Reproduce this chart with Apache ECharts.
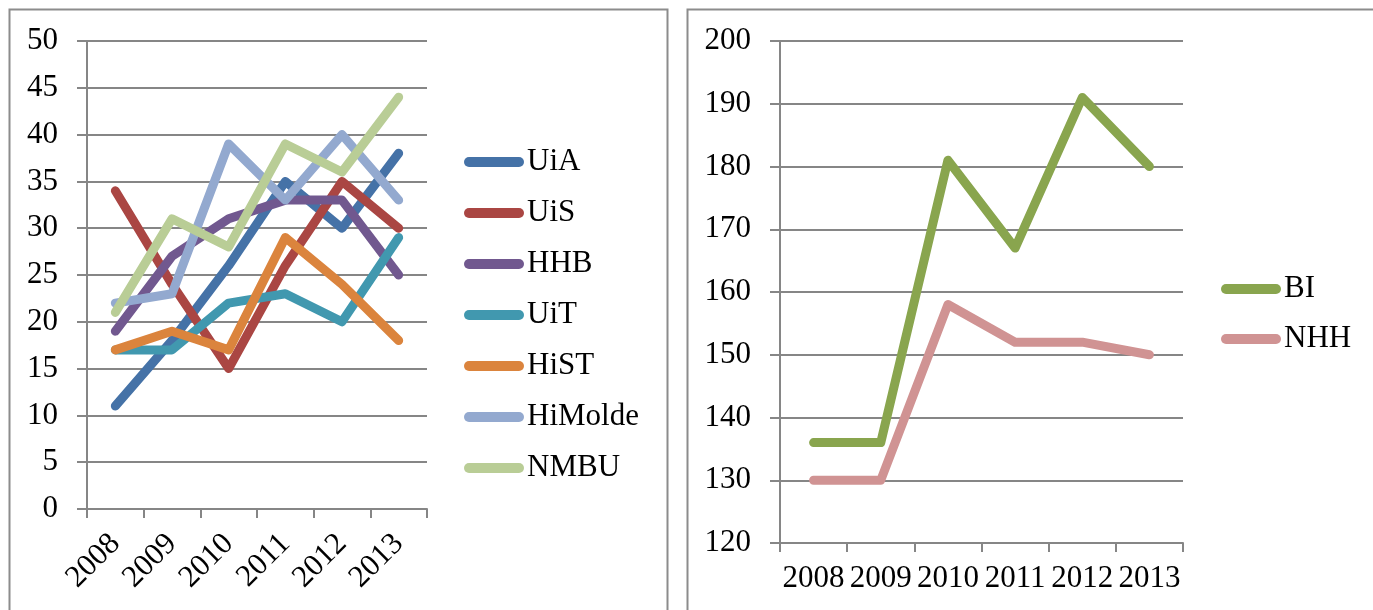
<!DOCTYPE html>
<html>
<head>
<meta charset="utf-8">
<script src="https://cdn.jsdelivr.net/npm/echarts@6/dist/echarts.min.js"></script>
<style>
  html, body { margin: 0; padding: 0; background: #fff; }
  #chart { width: 1373px; height: 610px; }
</style>
</head>
<body>
<div id="chart"></div>
<script>
  // years on both panels
  var years = ['2008', '2009', '2010', '2011', '2012', '2013'];

  // left panel
  var uiA     = [11, 18, 26, 35, 30, 38];
  var uiS     = [34, 24, 15, 26, 35, 30];
  var hhb     = [19, 27, 31, 33, 33, 25];
  var uiT     = [17, 17, 22, 23, 20, 29];
  var hiST    = [17, 19, 17, 29, 24, 18];
  var hiMolde = [22, 23, 39, 33, 40, 33];
  var nmbu    = [21, 31, 28, 39, 36, 44];

  // right panel
  var bi  = [136, 136, 181, 167, 191, 180];
  var nhh = [130, 130, 158, 152, 152, 150];

  var leftNames = ['UiA', 'UiS', 'HHB', 'UiT', 'HiST', 'HiMolde', 'NMBU'];
  var leftData = [uiA, uiS, hhb, uiT, hiST, hiMolde, nmbu];
  var leftColors = ['#4572A7', '#AA4643', '#71588F', '#4198AF', '#DB843D', '#93A9CF', '#B9CD96'];

  var rightNames = ['BI', 'NHH'];
  var rightData = [bi, nhh];
  var rightColors = ['#89A54E', '#D09393'];

  var font = '"Liberation Serif", "Times New Roman", serif';
  var grey = '#868686';
  var pill = 'path://M5,0 H55 A5,5 0 0 1 55,10 H5 A5,5 0 0 1 5,0 Z';

  function xAxis(idx, rotate, margin) {
    return {
      type: 'category',
      gridIndex: idx,
      data: years,
      boundaryGap: true,
      axisLine: { lineStyle: { color: grey, width: 2 } },
      axisTick: { show: true, length: 9, lineStyle: { color: grey, width: 2 } },
      axisLabel: { color: '#000', fontFamily: font, fontSize: 31, rotate: rotate, margin: margin, interval: 0 }
    };
  }

  function yAxis(idx, min, max, step) {
    return {
      type: 'value',
      gridIndex: idx,
      min: min, max: max, interval: step,
      axisLine: { show: true, lineStyle: { color: grey, width: 2 } },
      axisTick: { show: true, length: 10, lineStyle: { color: grey, width: 2 } },
      splitLine: { lineStyle: { color: grey, width: 2 } },
      axisLabel: { color: '#000', fontFamily: font, fontSize: 31, margin: 29 }
    };
  }

  var series = [];
  for (var i = 0; i < leftNames.length; i++) {
    series.push({
      name: leftNames[i], type: 'line', xAxisIndex: 0, yAxisIndex: 0,
      data: leftData[i], showSymbol: false, symbol: 'none', color: leftColors[i],
      lineStyle: { width: 9, cap: 'round', join: 'round' },
      emphasis: { disabled: true }
    });
  }
  for (var j = 0; j < rightNames.length; j++) {
    series.push({
      name: rightNames[j], type: 'line', xAxisIndex: 1, yAxisIndex: 1,
      data: rightData[j], showSymbol: false, symbol: 'none', color: rightColors[j],
      lineStyle: { width: 9, cap: 'round', join: 'round' },
      emphasis: { disabled: true }
    });
  }

  var chart = echarts.init(document.getElementById('chart'));
  chart.setOption({
    animation: false,
    backgroundColor: '#fff',
    graphic: [
      { type: 'rect', shape: { x: 9.5, y: 9.5, width: 658, height: 700 }, style: { fill: 'none', stroke: '#8c8c8c', lineWidth: 2 } },
      { type: 'rect', shape: { x: 687.5, y: 9.5, width: 800, height: 700 }, style: { fill: 'none', stroke: '#8c8c8c', lineWidth: 2 } }
    ],
    grid: [
      { left: 87, top: 41, width: 340, height: 468 },
      { left: 780, top: 41, width: 403, height: 502 }
    ],
    xAxis: [xAxis(0, 45, 30), xAxis(1, 0, 20)],
    yAxis: [yAxis(0, 0, 50, 5), yAxis(1, 120, 200, 10)],
    legend: [
      {
        data: leftNames, orient: 'vertical', left: 459, top: 141.5,
        icon: pill, itemWidth: 60, itemHeight: 10, itemGap: 20,
        textStyle: { color: '#000', fontFamily: font, fontSize: 31, lineHeight: 31, padding: [0, 0, 0, -2] },
        selectedMode: false
      },
      {
        data: rightNames, orient: 'vertical', left: 1216, top: 268.5,
        icon: pill, itemWidth: 60, itemHeight: 10, itemGap: 19,
        textStyle: { color: '#000', fontFamily: font, fontSize: 31, lineHeight: 31, padding: [0, 0, 0, -2] },
        selectedMode: false
      }
    ],
    series: series
  });
</script>
</body>
</html>
